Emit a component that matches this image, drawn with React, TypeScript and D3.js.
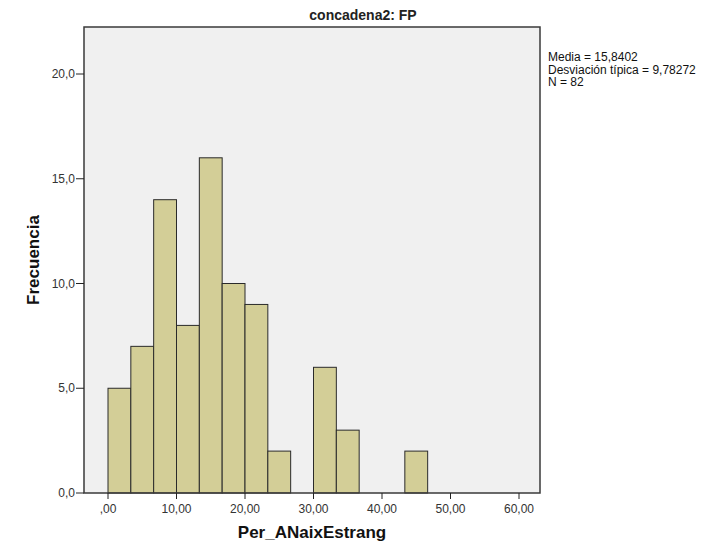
import React from "react";
import * as d3 from "d3";

const binStarts = [0, 10 / 3, 20 / 3, 10, 40 / 3, 50 / 3, 20, 70 / 3, 80 / 3, 30, 100 / 3, 110 / 3, 40, 130 / 3];
const counts = [5, 7, 14, 8, 16, 10, 9, 2, 0, 6, 3, 0, 0, 2];
const binWidth = 10 / 3;
const xTicks = [0, 10, 20, 30, 40, 50, 60];
const yTicks = [0, 5, 10, 15, 20];
const legendLines = ["Media = 15,8402", "Desviación típica = 9,78272", "N = 82"];
const title = "concadena2: FP";
const xLabel = "Per_ANaixEstrang";
const yLabel = "Frecuencia";

const W = 713, H = 547;
const left = 84, right = 540, top = 27, bottom = 493;

export default function App() {
  const x = d3.scaleLinear().domain([0, 60]).range([108, 519]);
  const y = d3.scaleLinear().domain([0, 20]).range([bottom, 74]);
  const fmtX = (v: number) => (v === 0 ? ",00" : d3.format(".2f")(v).replace(".", ","));
  const fmtY = (v: number) => d3.format(".1f")(v).replace(".", ",");
  const font = "Arial, 'Liberation Sans', sans-serif";
  return (
    <div style={{ position: "fixed", left: 0, top: 0, width: W, height: H, background: "#fff" }}>
      <svg width={W} height={H} style={{ display: "block" }}>
        <rect x={0} y={0} width={W} height={H} fill="#fff" />
        <rect x={left} y={top} width={right - left} height={bottom - top} fill="#f0f0f0" stroke="none" />
        {counts.map((c, i) =>
          c > 0 ? (
            <rect
              key={i}
              x={x(binStarts[i])}
              y={y(c)}
              width={x(binStarts[i] + binWidth) - x(binStarts[i])}
              height={bottom - y(c)}
              fill="#d3ce97"
              stroke="#2a2a2a"
              strokeWidth={1}
            />
          ) : null
        )}
        <rect x={left} y={top} width={right - left} height={bottom - top} fill="none" stroke="#3a3a3a" strokeWidth={1.5} />
        {yTicks.map((t) => (
          <g key={t}>
            <line x1={left - 8} x2={left} y1={y(t)} y2={y(t)} stroke="#222" strokeWidth={1} />
            <text x={left - 9} y={y(t)} dy="0.35em" textAnchor="end" fontFamily={font} fontSize={12} fill="#333">
              {fmtY(t)}
            </text>
          </g>
        ))}
        {xTicks.map((t) => (
          <g key={t}>
            <line x1={x(t)} x2={x(t)} y1={bottom} y2={bottom + 6} stroke="#222" strokeWidth={1} />
            <text x={x(t)} y={bottom + 20} textAnchor="middle" fontFamily={font} fontSize={12} fill="#333">
              {fmtX(t)}
            </text>
          </g>
        ))}
        <text x={363} y={20} textAnchor="middle" fontFamily={font} fontWeight="bold" fontSize={14} fill="#222">
          {title}
        </text>
        <text x={(left + right) / 2} y={538} textAnchor="middle" fontFamily={font} fontWeight="bold" fontSize={17} fill="#111">
          {xLabel}
        </text>
        <text
          transform={`translate(39,${(top + bottom) / 2}) rotate(-90)`}
          textAnchor="middle"
          fontFamily={font}
          fontWeight="bold"
          fontSize={17}
          fill="#111"
        >
          {yLabel}
        </text>
        {legendLines.map((l, i) => (
          <text key={i} x={548} y={61 + i * 12.5} fontFamily={font} fontSize={12} fill="#111">
            {l}
          </text>
        ))}
      </svg>
    </div>
  );
}
